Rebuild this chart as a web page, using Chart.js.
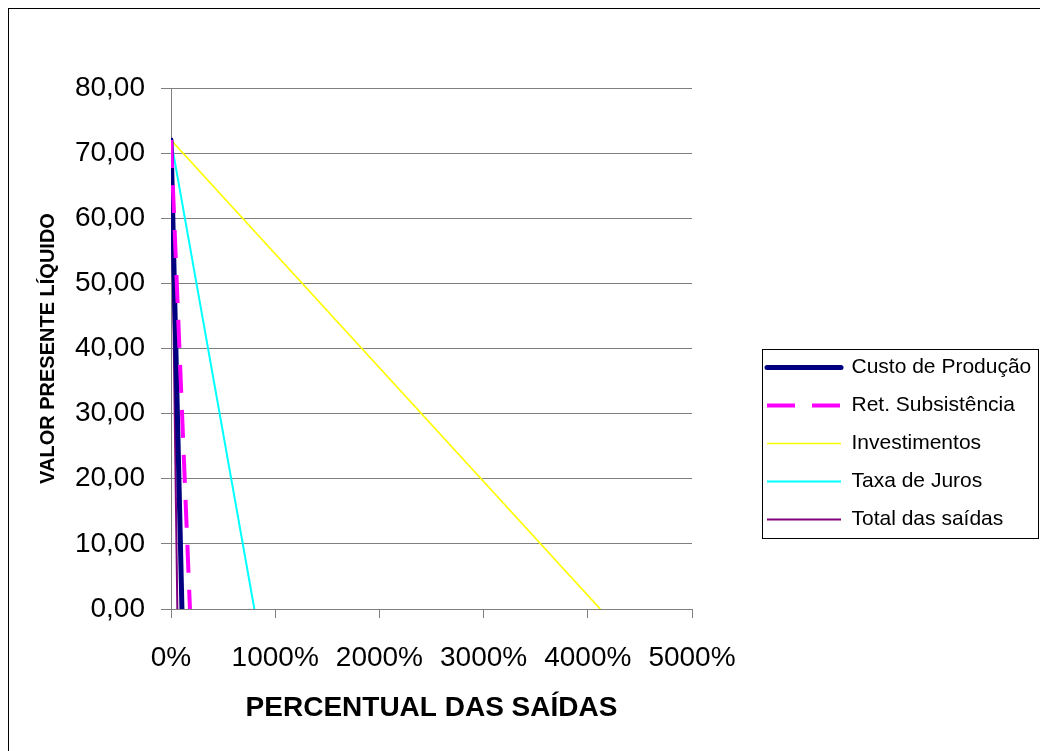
<!DOCTYPE html>
<html>
<head>
<meta charset="utf-8">
<script src="https://cdn.jsdelivr.net/npm/chart.js@4.4.1/dist/chart.umd.min.js"></script>
<style>
  html, body { margin: 0; padding: 0; background: #fff; }
  #myChart { display: block; }
</style>
</head>
<body>
<canvas id="myChart" width="1040" height="751"></canvas>
<script>
// series names, in legend order
const seriesLabels = ['Custo de Produção', 'Ret. Subsistência', 'Investimentos', 'Taxa de Juros', 'Total das saídas'];

// percentual das saídas (x) / valor presente líquido (y)
const custoX = [0, 105];
const custoY = [72, 0];
const retX = [0, 182];
const retY = [72, 0];
const investX = [0, 4120];
const investY = [72, 0];
const jurosX = [0, 800];
const jurosY = [72, 0];
const totalX = [0, 61];
const totalY = [72, 0];

const xTicks = [0, 1000, 2000, 3000, 4000, 5000];
const yTicks = [0, 10, 20, 30, 40, 50, 60, 70, 80];

const pts = (xs, ys) => xs.map((x, i) => ({ x: x, y: ys[i] }));

Chart.defaults.font.family = 'Arial, "Liberation Sans", sans-serif';
Chart.defaults.color = '#000';

const framePlugin = {
    id: 'framePlugin',
    afterLayout(chart) {
        // put the legend to the right of the plot
        const lg = chart.legend;
        lg.left = 750;
        lg.top = 340;
        lg.right = lg.left + lg.width;
        lg.bottom = lg.top + lg.height;
    },
    beforeDraw(chart) {
        const ctx = chart.ctx;
        ctx.save();
        ctx.strokeStyle = '#000';
        ctx.lineWidth = 1;
        ctx.strokeRect(8.5, 8.5, 1100, 800);
        ctx.restore();
    },
    afterDraw(chart) {
        const ctx = chart.ctx;
        const lg = chart.legend;
        ctx.save();
        ctx.strokeStyle = '#000';
        ctx.lineWidth = 1;
        ctx.strokeRect(Math.round(lg.left + 12) + 0.5, Math.round(lg.top + 9) + 0.5, 276, 189);
        ctx.restore();
    }
};

const ctx = document.getElementById('myChart').getContext('2d');
new Chart(ctx, {
    type: 'scatter',
    data: {
        datasets: [
            { label: seriesLabels[0], data: pts(custoX, custoY), borderColor: '#000080', borderWidth: 5, borderCapStyle: 'round', order: 2 },
            { label: seriesLabels[1], data: pts(retX, retY), borderColor: '#FF00FF', borderWidth: 4, borderDash: [28, 17], order: 1 },
            { label: seriesLabels[2], data: pts(investX, investY), borderColor: '#FFFF00', borderWidth: 1.7, order: 5 },
            { label: seriesLabels[3], data: pts(jurosX, jurosY), borderColor: '#00FFFF', borderWidth: 2, order: 4 },
            { label: seriesLabels[4], data: pts(totalX, totalY), borderColor: '#800080', borderWidth: 2, order: 3 }
        ]
    },
    options: {
        responsive: false,
        animation: false,
        showLine: true,
        elements: {
            point: { radius: 0, hoverRadius: 0 },
            line: { tension: 0 }
        },
        layout: {
            padding: { left: 0, top: 88, right: 348, bottom: 0 }
        },
        scales: {
            x: {
                type: 'linear',
                min: 0,
                max: 5000,
                afterBuildTicks: axis => { axis.ticks = xTicks.map(v => ({ value: v })); },
                afterFit: axis => { axis.height = 142; },
                ticks: {
                    font: { size: 28 },
                    padding: 23,
                    maxRotation: 0,
                    callback: v => v + '%'
                },
                grid: { drawOnChartArea: false, drawTicks: true, tickLength: 9, color: '#808080' },
                border: { color: '#808080' },
                title: {
                    display: true,
                    text: 'PERCENTUAL DAS SAÍDAS',
                    font: { size: 28, weight: 'bold' },
                    padding: { top: 0, bottom: 26 }
                }
            },
            y: {
                min: 0,
                max: 80,
                afterBuildTicks: axis => { axis.ticks = yTicks.map(v => ({ value: v })); },
                afterFit: axis => { axis.width = 171; },
                ticks: {
                    font: { size: 28 },
                    padding: 16,
                    callback: v => v.toFixed(2).replace('.', ',')
                },
                grid: { color: '#808080', tickLength: 10 },
                border: { color: '#808080' },
                title: {
                    display: true,
                    text: 'VALOR PRESENTE LÍQUIDO',
                    font: { size: 20, weight: 'bold' },
                    padding: { top: 36, bottom: 0 }
                }
            }
        },
        plugins: {
            tooltip: { enabled: false },
            legend: {
                position: 'chartArea',
                align: 'start',
                labels: {
                    font: { size: 21 },
                    color: '#000',
                    padding: 17,
                    usePointStyle: true,
                    pointStyleWidth: 74,
                    generateLabels: chart => chart.data.datasets.map((ds, i) => ({
                        text: ds.label,
                        fillStyle: ds.borderColor,
                        strokeStyle: ds.borderColor,
                        lineWidth: ds.borderWidth,
                        lineDash: ds.borderDash || [],
                        lineCap: ds.borderCapStyle || 'butt',
                        pointStyle: 'line',
                        rotation: 0,
                        fontColor: '#000',
                        hidden: false,
                        datasetIndex: i
                    }))
                }
            }
        }
    },
    plugins: [framePlugin]
});
</script>
</body>
</html>
